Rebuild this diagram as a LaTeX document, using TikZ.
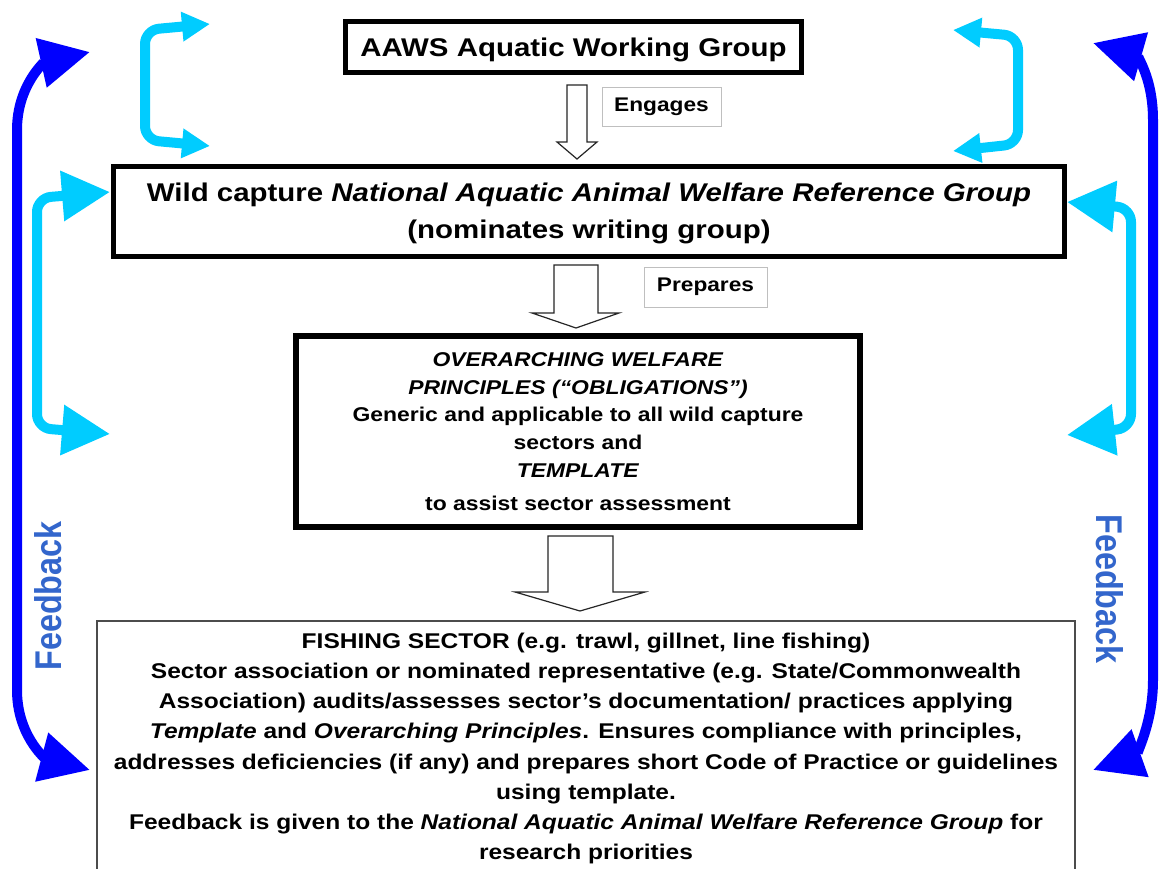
\documentclass[tikz,border=0pt]{standalone}
\usepackage{fontspec}
\setmainfont{Liberation Sans}[FakeStretch=1.15]
\newfontfamily\fbfont{Liberation Sans}
\usetikzlibrary{arrows.meta}
\definecolor{cyanA}{RGB}{0,204,255}
\definecolor{blueA}{RGB}{0,0,255}
\definecolor{fbblue}{RGB}{51,102,204}
\begin{document}
\begin{tikzpicture}[x=1bp,y=-1bp,
  mainbox/.style={draw=black, line width=5bp, align=center, inner sep=0pt},
  lbl/.style={draw=black!25, line width=0.8bp, inner sep=0pt, font=\bfseries\fontsize{19.8}{24}\selectfont},
  hollow/.style={draw=black!85, line width=1.2bp, fill=white, line join=miter},
  cyanarr/.style={draw=cyanA, line width=10bp, rounded corners=14bp},
  bluearr/.style={draw=blueA, line width=10bp},
  fb/.style={text=fbblue, font=\fbfont\bfseries\fontsize{32.5}{36}\selectfont, inner sep=0pt}]
\useasboundingbox (0,0) rectangle (1159,869);
\fill[white] (0,0) rectangle (1159,869);

% boxes
\node[mainbox, minimum width=455.5bp, minimum height=50.5bp, text depth=0pt,
  font=\bfseries\fontsize{25.7}{30}\selectfont] (awg) at (573.5,47)
  {AAWS Aquatic Working Group};
\node[mainbox, minimum width=950.5bp, minimum height=90bp, text depth=0pt,
  font=\bfseries\fontsize{25.7}{37}\selectfont] (narg) at (589,211)
  {Wild capture \textit{National Aquatic Animal Welfare Reference Group}\\(nominates writing group)};
\node[mainbox, line width=5.5bp, minimum width=564bp, minimum height=191bp,
  font=\bfseries\fontsize{20}{28}\selectfont] (owp) at (578,431.5)
  {\textit{OVERARCHING WELFARE}\\
   \textit{PRINCIPLES (“OBLIGATIONS”)}\\
   Generic and applicable to all wild capture\\
   sectors and\\
   \textit{TEMPLATE}\\[5bp]
   to assist sector assessment};
\node[draw=black!70, line width=1.5bp, minimum width=978bp, minimum height=259bp, inner sep=0pt] (sector) at (586,750.5) {};
\node[align=center, inner sep=0pt, font=\bfseries\fontsize{21.4}{30.2}\selectfont] (sectortext) at (586,748.5)
  {FISHING SECTOR (e.g. trawl, gillnet, line fishing)\\
   Sector association or nominated representative (e.g. State/Commonwealth\\
   Association) audits/assesses sector’s documentation/ practices applying\\
   \textit{Template} and \textit{Overarching Principles}. Ensures compliance with principles,\\
   addresses deficiencies (if any) and prepares short Code of Practice or guidelines\\
   using template.\\
   Feedback is given to the \textit{National Aquatic Animal Welfare Reference Group} for\\
   research priorities};

% labels
\node[lbl, minimum width=119bp, minimum height=39bp] (eng) at (661.5,106.5) {Engages};
\node[lbl, minimum width=123bp, minimum height=40bp] (prep) at (705.5,287) {Prepares};

% hollow arrows
\draw[hollow] (567,85) -- (587,85) -- (587,142) -- (597,142) -- (577,159) -- (557,142) -- (567,142) -- cycle;
\draw[hollow] (554,265) -- (598,265) -- (598,313) -- (619,313) -- (576,328) -- (532,313) -- (554,313) -- cycle;
\draw[hollow] (548,536) -- (613,536) -- (613,592) -- (645,592) -- (580,611) -- (515,592) -- (548,592) -- cycle;

% cyan double arrows
\draw[cyanarr, {Triangle[length=28bp,width=28bp]}-{Triangle[length=28bp,width=28bp]}]
  (210,24) -- (145,30) -- (145,140) -- (210,146);
\draw[cyanarr, {Triangle[length=28bp,width=28bp]}-{Triangle[length=28bp,width=28bp]}]
  (953,30) -- (1018,36) -- (1018,144) -- (953,151);
\draw[cyanarr, {Triangle[length=48bp,width=48bp]}-{Triangle[length=48bp,width=48bp]}]
  (110,192) -- (37,198) -- (37,428) -- (110,434);
\draw[cyanarr, {Triangle[length=48bp,width=49bp]}-{Triangle[length=48bp,width=49bp]}]
  (1067,202) -- (1131,208) -- (1131,428) -- (1067,435);

% blue feedback arrows
\draw[bluearr, {Triangle[length=50bp,width=48bp]}-{Triangle[length=50bp,width=48bp]}]
  (90,52) .. controls (45,62) and (17,85) .. (17,130) -- (17,690) .. controls (17,735) and (45,758) .. (90,770);
\draw[bluearr, {Triangle[length=50bp,width=48bp]}-{Triangle[length=50bp,width=48bp]}]
  (1093,43) .. controls (1135,55) and (1153,75) .. (1153,120) -- (1153,680) .. controls (1153,725) and (1135,755) .. (1093,770);

% feedback labels
\node[fb, rotate=90] (fbl) at (48.5,596) {\scalebox{1}[1.15]{Feedback}};
\node[fb, rotate=-90] (fbr) at (1109.5,589) {\scalebox{1}[1.15]{Feedback}};
\end{tikzpicture}
\end{document}
